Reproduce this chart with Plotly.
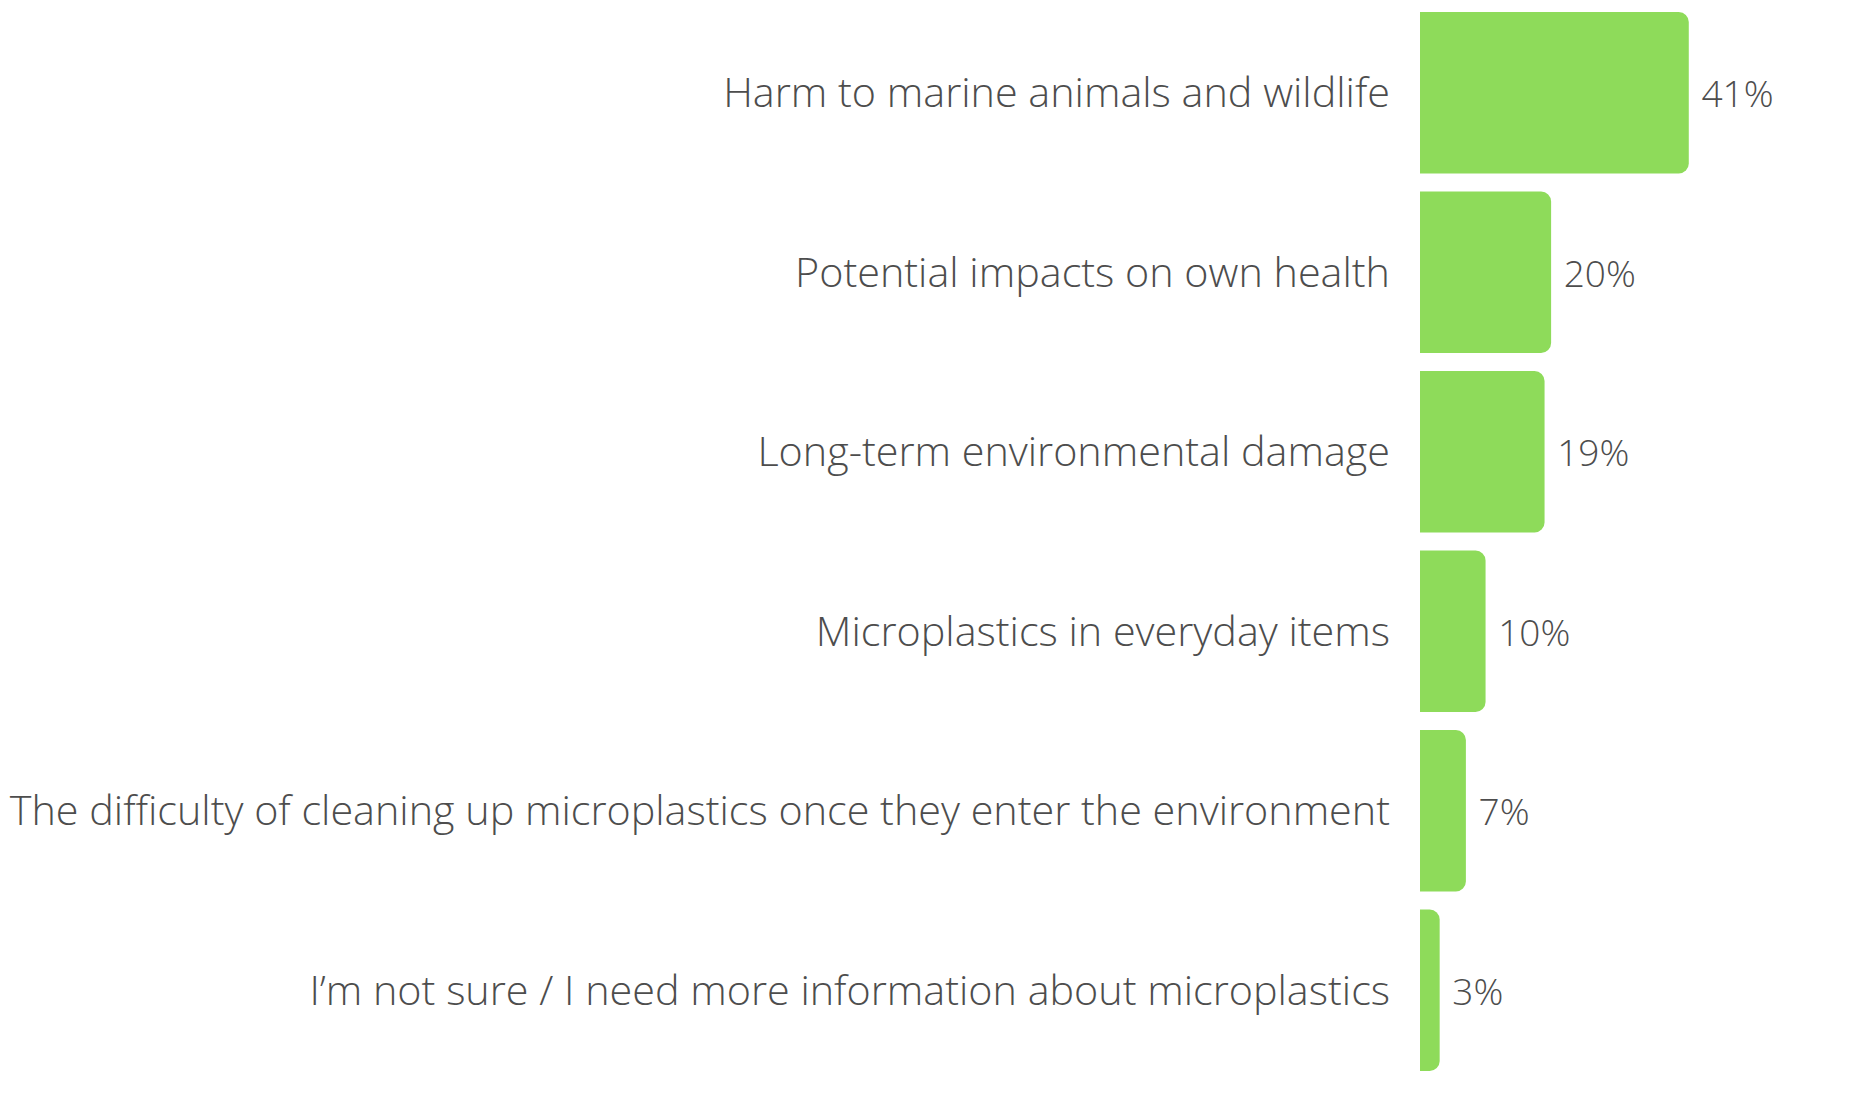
import plotly.graph_objects as go

# survey answers, top to bottom
concerns = [
    "Harm to marine animals and wildlife",
    "Potential impacts on own health",
    "Long-term environmental damage",
    "Microplastics in everyday items",
    "The difficulty of cleaning up microplastics once they enter the environment",
    "I\u2019m not sure / I need more information about microplastics",
]
share_pct = [41, 20, 19, 10, 7, 3]

bar_green = "#8EDB5A"
text_grey = "#4d4d4d"
label_font = dict(family="Open Sans", size=41.3, color=text_grey, weight=300)
value_font = dict(family="Open Sans", size=37, color=text_grey, weight=300)

fig = go.Figure()
fig.add_trace(go.Bar(
    x=share_pct,
    y=concerns,
    orientation="h",
    marker=dict(color=bar_green, line=dict(width=0)),
    text=[f" {v}%" for v in share_pct],
    textposition="outside",
    textfont=value_font,
    cliponaxis=False,
    hoverinfo="skip",
))

fig.update_layout(
    width=1868,
    height=1120,
    margin=dict(l=1412, r=161, t=0, b=48),
    paper_bgcolor="white",
    plot_bgcolor="white",
    font=label_font,
    bargap=0.1,
    barcornerradius=10,
    showlegend=False,
)
fig.update_xaxes(range=[0, 45], visible=False, fixedrange=True)
fig.update_yaxes(
    range=[5.5, -0.4722],
    showgrid=False,
    showline=False,
    zeroline=False,
    ticks="",
    ticklabelstandoff=29,
    tickfont=label_font,
    automargin=False,
)

fig.write_html("out.html")
